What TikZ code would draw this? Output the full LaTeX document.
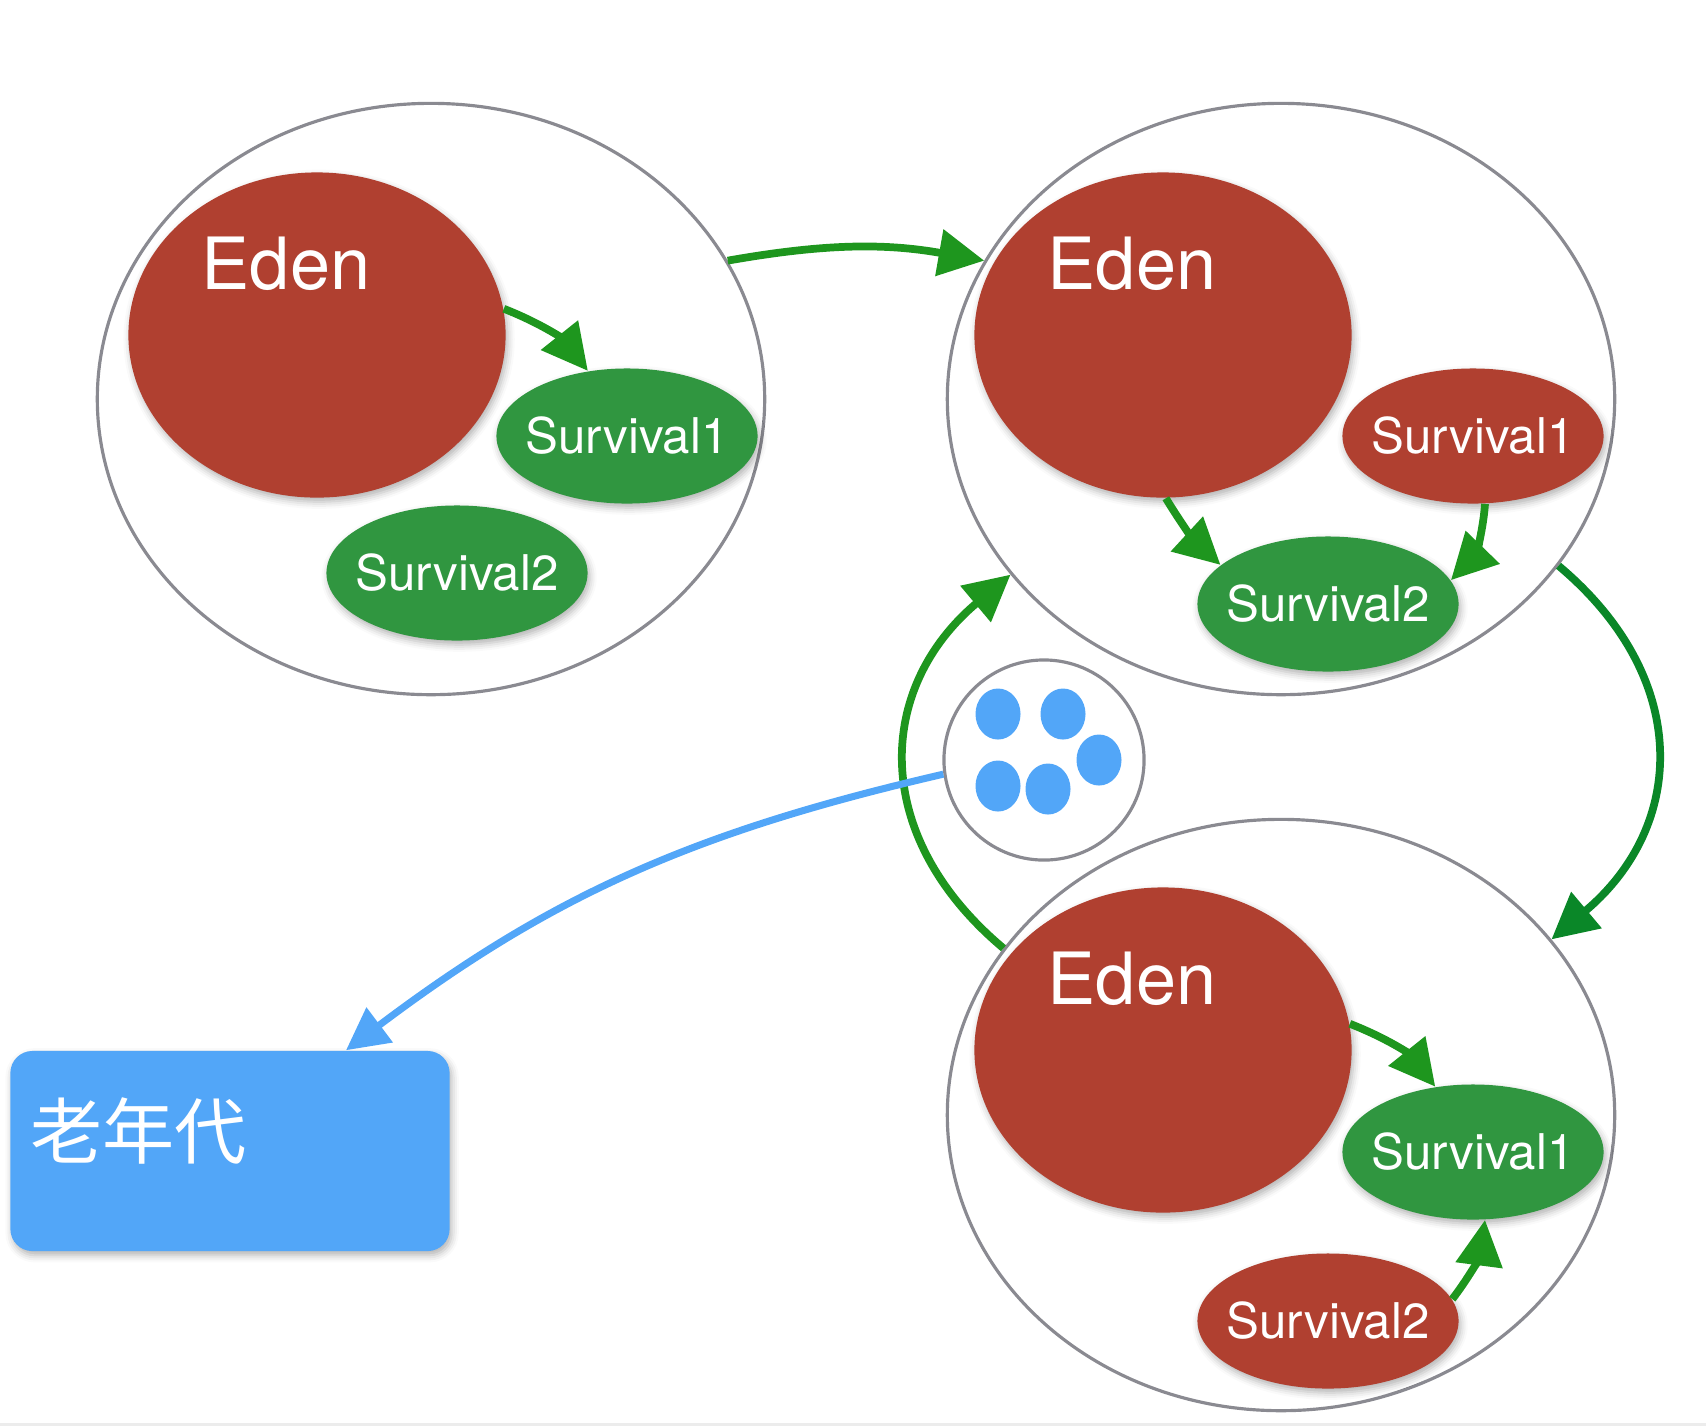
\documentclass[tikz,border=0pt]{standalone}
\usepackage{fontspec}
\setmainfont{TeX Gyre Heros}
\newfontfamily\cjk{Noto Sans CJK SC}
\usetikzlibrary{shapes.geometric,arrows.meta,shadows.blur,calc}

\definecolor{edenred}{RGB}{176,64,48}
\definecolor{survgreen}{RGB}{48,150,64}
\definecolor{arrowgreen}{RGB}{30,150,30}
\definecolor{darkarrow}{RGB}{10,135,40}
\definecolor{oldblue}{RGB}{82,166,248}
\definecolor{rimgray}{RGB}{138,138,145}

\tikzset{
    softshadow/.style={blur shadow={shadow xshift=0.6pt, shadow yshift=-1.2pt, shadow blur radius=2pt, shadow opacity=30}},
    heap/.style={draw=rimgray, line width=0.9pt, ellipse, inner sep=0pt, minimum width=6.67cm, minimum height=5.91cm},
    eden/.style={fill=edenred, ellipse, inner sep=0pt, minimum width=3.77cm, minimum height=3.25cm, softshadow},
    edenlabel/.style={text=white, inner sep=0pt, font=\fontsize{20.5}{24}\selectfont},
    surv/.style={ellipse, inner sep=0pt, minimum width=2.61cm, minimum height=1.35cm, softshadow},
    survtext/.style={text=white, inner sep=0pt, font=\fontsize{14}{17}\selectfont},
    pool/.style={draw=rimgray, line width=0.9pt, circle, inner sep=0pt, minimum size=2cm},
    dot/.style={fill=oldblue, ellipse, inner sep=0pt, minimum width=0.45cm, minimum height=0.51cm},
    oldgen/.style={fill=oldblue, rounded corners=0.22cm, inner sep=0pt, minimum width=4.39cm, minimum height=2cm, softshadow},
    oldlabel/.style={text=white, inner sep=0pt, font=\cjk\fontsize{20.5}{24}\selectfont},
    grarrow/.style={draw=arrowgreen, line width=2.2pt, -{Triangle[length=13pt,width=13pt]}},
    bluearrow/.style={draw=oldblue, line width=2pt, -{Triangle[length=12pt,width=12pt]}}
}

\begin{document}
\begin{tikzpicture}[x=0.01cm, y=0.01cm]
    \useasboundingbox (0,0) rectangle (1706,-1426);
    \fill[gray!15] (0,-1423) rectangle (1706,-1426);

    % the three heaps
    \node[heap] (heapA) at (431,-399) {};
    \node[heap] (heapB) at (1281,-399) {};
    \node[heap] (heapC) at (1281,-1115) {};

    \node[eden] (edenA) at (317,-335) {};
    \node[eden] (edenB) at (1163,-335) {};
    \node[eden] (edenC) at (1163,-1050) {};
    \node[edenlabel] (edenAtxt) at (286,-264) {Eden};
    \node[edenlabel] (edenBtxt) at (1132,-264) {Eden};
    \node[edenlabel] (edenCtxt) at (1132,-979) {Eden};

    \node[surv, fill=survgreen, label={[survtext]center:Survival1}] (survOneA) at (627,-436) {};
    \node[surv, fill=survgreen, label={[survtext]center:Survival2}] (survTwoA) at (457,-573) {};
    \node[surv, fill=edenred, label={[survtext]center:Survival1}] (survOneB) at (1473,-436) {};
    \node[surv, fill=survgreen, label={[survtext]center:Survival2}] (survTwoB) at (1328,-604) {};
    \node[surv, fill=survgreen, label={[survtext]center:Survival1}] (survOneC) at (1473,-1152) {};
    \node[surv, fill=edenred, label={[survtext]center:Survival2}] (survTwoC) at (1328,-1321) {};

    % surviving objects
    \node[pool] (pool) at (1044,-760) {};
    \node[dot] (dotA) at (998,-714) {};
    \node[dot] (dotB) at (1063,-714) {};
    \node[dot] (dotC) at (1099,-760) {};
    \node[dot] (dotD) at (998,-786) {};
    \node[dot] (dotE) at (1048,-789) {};

    \node[oldgen] (oldGen) at (230,-1151) {};
    \node[oldlabel, anchor=west] (oldTxt) at (30,-1131) {老年代};

    \draw[grarrow] (edenA.8) to[bend left=15] (survOneA.121);
    \draw[grarrow] (heapA.25) to[bend left=10] (heapB.155);
    \draw[grarrow] (edenB.271) to[bend right=8] (survTwoB.160);
    \draw[grarrow] (survOneB.280) to[bend left=20] (survTwoB.11);
    \draw[grarrow, draw=darkarrow] (heapB.329) to[out=-40, in=40, looseness=1.2] (heapC.33);
    \draw[grarrow] (heapC.149) to[out=140, in=-140, looseness=1.2] (heapB.213);
    \draw[bluearrow] (pool.188) to[out=193, in=37] ($(oldGen.north)+(116,0)$);
    \draw[grarrow] (edenC.8) to[bend left=15] (survOneC.120);
    \draw[grarrow] (survTwoC.10) to[bend right=15] (survOneC.280);
\end{tikzpicture}
\end{document}
